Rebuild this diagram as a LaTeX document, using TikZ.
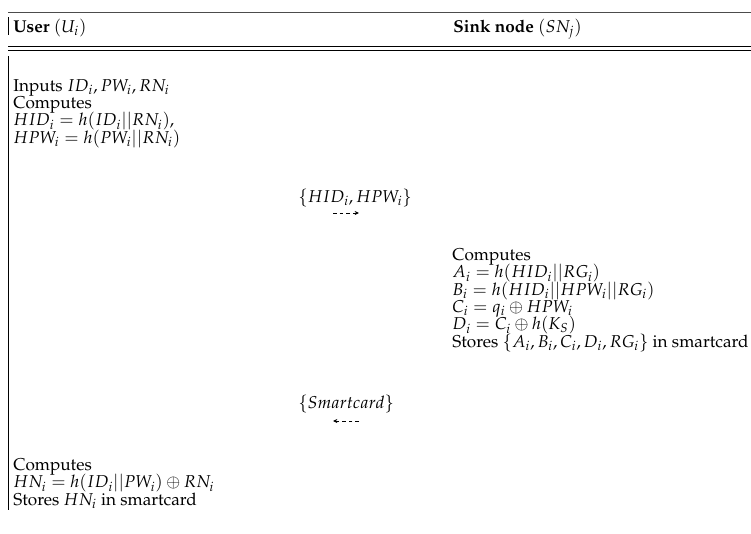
\documentclass[tikz,border=0pt]{standalone}
\usepackage[T1]{fontenc}
\usepackage{mathpazo}
\usetikzlibrary{arrows.meta}
% fixed line pitch even where subscripts crowd the lines
\newcommand\tightlines{\lineskiplimit=-10pt\relax\lineskip=0pt\relax}
\begin{document}
\begin{tikzpicture}[x=0.6pt,y=-0.6pt,
  % multi-line texts are placed by the baseline of their last line
  txt/.style={anchor=base west,inner sep=0pt,align=left,
    font=\fontsize{10.3}{10.4}\selectfont\tightlines},
  hdr/.style={anchor=base west,inner sep=0pt,
    font=\fontsize{10.3}{10.4}\selectfont\bfseries},
  rulethin/.style={line width=0.6pt},
  msgarrow/.style={line width=0.45pt,dash pattern=on 2.2pt off 1.8pt,
    -{Stealth[length=2.6pt,width=2.4pt]}}]
\useasboundingbox (0,0) rectangle (751,533);
% table rules
\draw[rulethin,black!70] (8,12) -- (751,12);
\draw[rulethin] (8,17) -- (8,35);
\draw[rulethin] (8,46) -- (751,46);
\draw[rulethin] (8,50.5) -- (751,50.5);
\draw[rulethin] (8,56) -- (8,510);
% column headings
\node[hdr] (user) at (13,32) {User \normalfont$(U_i)$};
\node[hdr] (sink) at (453,32) {Sink node \normalfont$(SN_j)$};
% user side: registration request
\node[txt] (u1) at (13,143) {Inputs $ID_i, PW_i, RN_i$\\
  Computes\\
  $HID_i = h(ID_i||RN_i)$,\\
  $HPW_i = h(PW_i||RN_i)$};
% message to sink node
\node[txt] (m1) at (298,202) {$\{HID_i, HPW_i\}$};
\coordinate (m1s) at (333,213);
\coordinate (m1e) at (359,213);
\draw[msgarrow] (m1s) -- (m1e);
% sink node side
\node[txt] (s1) at (452,347) {Computes\\
  $A_i = h(HID_i||RG_i)$\\
  $B_i = h(HID_i||HPW_i||RG_i)$\\
  $C_i = q_i \oplus HPW_i$\\
  $D_i = C_i \oplus h(K_S)$\\
  Stores $\{A_i, B_i, C_i, D_i, RG_i\}$ in smartcard};
% message back to user
\node[txt] (m2) at (298,408) {$\{Smartcard\}$};
\coordinate (m2s) at (359,421);
\coordinate (m2e) at (333,421);
\draw[msgarrow] (m2s) -- (m2e);
% user side: final step
\node[txt] (u2) at (13,505) {Computes\\
  $HN_i = h(ID_i||PW_i) \oplus RN_i$\\
  Stores $HN_i$ in smartcard};
\end{tikzpicture}
\end{document}
